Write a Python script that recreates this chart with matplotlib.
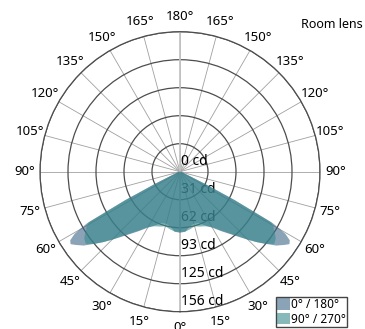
import numpy as np
import matplotlib.pyplot as plt
from matplotlib.patches import Patch

plt.rcParams["font.family"] = ["Noto Sans", "DejaVu Sans"]

# luminous intensity, cd, vs angle from nadir (symmetric halves)
gamma = [0, 5, 10, 15, 20, 25, 30, 35, 40, 42.5, 45, 47.5, 50, 52.5, 55, 56.5, 58,
         59.5, 61, 62.5, 64, 66, 70, 75, 80, 85, 90]
i_c0 = [68, 67, 62, 60, 61, 66, 72, 81, 92, 99, 107, 116, 125, 135, 142, 146, 144,
        136, 118, 69, 31, 11, 4, 2, 1, 0, 0]
i_c90 = [67, 67, 65, 63, 65, 67, 71, 80, 91, 98, 107, 116, 125, 132, 130, 127, 123,
         121, 116, 69, 31, 11, 4, 2, 1, 0, 0]

ring_labels = ["0 cd", "31 cd", "62 cd", "93 cd", "125 cd", "156 cd"]
r_max = 155.75
series_labels = ["0° / 180°", "90° / 270°"]
colors = ["#3c6687", "#378a8d"]


def both_sides(g, vals):
    g = np.radians(np.asarray(g, dtype=float))
    v = np.asarray(vals, dtype=float)
    th = np.concatenate([-g[::-1], g[1:]])
    r = np.concatenate([v[::-1], v[1:]])
    return th, r


fig = plt.figure(figsize=(3.65, 3.29), dpi=100)
ax = fig.add_axes([40 / 365, 17.3 / 329, 280 / 365, 280 / 329], projection="polar")
ax.set_theta_zero_location("S")
ax.set_ylim(0, r_max)
ax.set_axisbelow(True)

rings = np.linspace(0, r_max, len(ring_labels))
ax.set_yticks(rings[1:])
ax.set_yticklabels([])
ax.set_xticks(np.radians(np.arange(0, 360, 15)))
ax.set_xticklabels([])
ax.yaxis.grid(True, color="#4d4d4d", lw=0.9)
ax.xaxis.grid(True, color="#a0a0a0", lw=0.6)
ax.spines["polar"].set_color("#4d4d4d")
ax.spines["polar"].set_linewidth(0.9)

# vertical 0-180 axis
ax.plot([0, 0], [0, r_max], color="#c4c4c4", lw=1.3, zorder=0.6)
ax.plot([np.pi, np.pi], [0, r_max], color="#c4c4c4", lw=1.3, zorder=0.6)

# angle labels on both sides
for deg in range(0, 360, 15):
    v = deg if deg <= 180 else 360 - deg
    ax.text(np.radians(deg), r_max * 155.5 / 140, f"{v}°", ha="center", va="center",
            fontsize=9.5, clip_on=False)

# ring labels
for r, lab in zip(rings, ring_labels):
    ax.annotate(lab, xy=(0, r), xytext=(0.7, 7.6), textcoords="offset points",
                ha="left", va="center", fontsize=10, zorder=0.8, annotation_clip=False)

for vals, c in zip([i_c0, i_c90], colors):
    th, r = both_sides(gamma, vals)
    ax.fill(th, r, color=c, alpha=0.6, lw=0, zorder=2)

fig.text(363 / 365, 1 - 24 / 329, "Room lens", ha="right", va="center", fontsize=9)

handles = [Patch(facecolor=c, alpha=0.6, edgecolor="none") for c in colors]
leg = fig.legend(handles, series_labels, loc="lower right",
                 bbox_to_anchor=(347 / 365, 2 / 329), fontsize=8.5,
                 fancybox=False, edgecolor="#444444", framealpha=1,
                 borderpad=0.1, handlelength=1.1, handleheight=1.1,
                 handletextpad=0.1, labelspacing=0.15, borderaxespad=0)
leg.get_frame().set_linewidth(1.0)

fig.savefig("out.png", dpi=100)
